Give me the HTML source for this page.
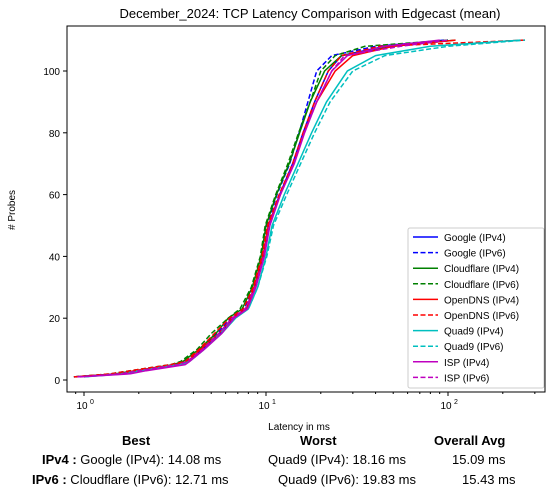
<!DOCTYPE html>
<html><head><meta charset="utf-8"><style>
body{margin:0;background:#fff;font-family:"Liberation Sans",sans-serif;}
#wrap{position:relative;width:555px;height:494px;}
.t{position:absolute;font-size:13px;color:#000;white-space:nowrap;}
</style></head><body>
<div id="wrap">
<svg id="chart" width="555" height="494" style="position:absolute;left:0;top:0"></svg>
<div class="t" style="left:122px;top:433px;font-weight:bold">Best</div>
<div class="t" style="left:300px;top:433px;font-weight:bold">Worst</div>
<div class="t" style="left:434px;top:433px;font-weight:bold">Overall Avg</div>
<div class="t" style="left:42px;top:452px"><b>IPv4 :</b> Google (IPv4): 14.08 ms</div>
<div class="t" style="left:268px;top:452px">Quad9 (IPv4): 18.16 ms</div>
<div class="t" style="left:452px;top:452px">15.09 ms</div>
<div class="t" style="left:32px;top:472px"><b>IPv6 :</b> Cloudflare (IPv6): 12.71 ms</div>
<div class="t" style="left:278px;top:472px">Quad9 (IPv6): 19.83 ms</div>
<div class="t" style="left:462px;top:472px">15.43 ms</div>
</div>
<script>
const probes=[1,2,3,5,6,10,15,20,23,30,40,50,60,70,80,90,100,105,108,110];
const seriesNames=["Google (IPv4)","Google (IPv6)","Cloudflare (IPv4)","Cloudflare (IPv6)","OpenDNS (IPv4)","OpenDNS (IPv6)","Quad9 (IPv4)","Quad9 (IPv6)","ISP (IPv4)","ISP (IPv6)"];
const seriesColors=["#0000ff","#0000ff","#008000","#008000","#ff0000","#ff0000","#00bfbf","#00bfbf","#bf00bf","#bf00bf"];
const seriesDashed=[false,true,false,true,false,true,false,true,false,true];
const lat0=[0.88,1.6,2.0,3.4,3.7,4.5,5.6,6.6,7.8,8.7,9.7,10.3,11.9,14,16,18.5,22,26,45,95];
const lat1=[0.88,1.5,1.9,3.2,3.6,4.4,5.4,6.4,7.6,8.5,9.5,10.1,11.5,13.5,15.2,17,19,23,40,100];
const lat2=[0.9,1.5,1.9,3.1,3.5,4.3,5.3,6.2,7.4,8.4,9.4,10.0,11.4,13.4,15.3,17.5,21,26,50,110];
const lat3=[0.88,1.4,1.8,3.0,3.4,4.2,5.0,6.2,7.2,8.3,9.3,9.9,11.3,13.2,15.1,17.5,20,24,35,100];
const lat4=[0.9,1.6,1.9,3.2,3.7,4.4,5.5,6.5,7.8,8.6,9.6,10.3,12,14.2,16.2,19,24,30,50,110];
const lat5=[0.88,1.4,1.8,3.0,3.6,4.3,5.2,6.3,7.5,8.5,9.5,10.2,11.8,14,16,18.5,22,26,42,265];
const lat6=[1.0,1.7,2.1,3.4,3.8,4.6,5.7,6.8,8.0,9.0,10.0,10.8,12.6,15,17.8,21.5,28,40,80,250];
const lat7=[1.0,1.6,2.0,3.3,3.8,4.6,5.6,6.7,8.0,9.0,10.1,11.0,13.0,15.5,18.5,22.5,30,45,100,265];
const lat8=[0.95,1.8,2.2,3.6,3.8,4.6,5.7,6.7,7.9,8.8,9.8,10.5,12,14.3,16.3,19,23,28,45,90];
const lat9=[0.92,1.6,2.0,3.3,3.7,4.5,5.5,6.5,7.7,8.7,9.7,10.4,12,14.2,16.2,19,23,27,55,100];
const allLat=[lat0,lat1,lat2,lat3,lat4,lat5,lat6,lat7,lat8,lat9];
const yTicks=[0,20,40,60,80,100];
const xTicks=[1,10,100];
const xTickLabels=["10","10","10"];
const xTickExp=["0","1","2"];

const NS="http://www.w3.org/2000/svg";
const svg=document.getElementById('chart');
const L=67,R=545,T=26,B=392;
function xs(v){return 84+182*Math.log10(v);}
function ys(v){return 380-3.09*v;}
function mk(tag,attrs,parent){const e=document.createElementNS(NS,tag);for(const k in attrs)e.setAttribute(k,attrs[k]);(parent||svg).appendChild(e);return e;}

let t=mk('text',{x:310,y:18,'font-size':13,'text-anchor':'middle'});t.textContent="December_2024: TCP Latency Comparison with Edgecast (mean)";



allLat.forEach((lat,i)=>{
  const d=lat.map((v,j)=>(j?'L':'M')+xs(v).toFixed(1)+','+ys(probes[j]).toFixed(1)).join(' ');
  const p=mk('path',{d:d,fill:'none',stroke:seriesColors[i],'stroke-width':1.5});
  if(seriesDashed[i])p.setAttribute('stroke-dasharray','5,2.5');
  
  
});

const frame=mk('rect',{x:L,y:T,width:R-L,height:B-T,fill:'none',stroke:'#000','stroke-width':1});



yTicks.forEach(v=>{
  mk('line',{x1:L-4,x2:L,y1:ys(v),y2:ys(v),stroke:'#000'});
  const tt=mk('text',{x:L-7,y:ys(v)+4,'font-size':10,'text-anchor':'end'});tt.textContent=v;
  
  
});
xTicks.forEach((v,i)=>{
  mk('line',{x1:xs(v),x2:xs(v),y1:B,y2:B+4,stroke:'#000'});
  const tt=mk('text',{x:xs(v)-2,y:B+17,'font-size':10,'text-anchor':'middle'});tt.textContent=xTickLabels[i];
  
  
  const e=mk('text',{x:xs(v)+6,y:B+12,'font-size':7});e.textContent=xTickExp[i];
});
for(let d=-1;d<=2;d++)for(let k=2;k<=9;k++){const x=xs(k*Math.pow(10,d));if(x>L&&x<R)mk('line',{x1:x,x2:x,y1:B,y2:B+2,stroke:'#000'});}

t=mk('text',{x:299,y:430,'font-size':10,'text-anchor':'middle'});t.textContent="Latency in ms";


t=mk('text',{x:15,y:210,'font-size':10,'text-anchor':'middle',transform:'rotate(-90 15 210)'});t.textContent="# Probes";



const lg=mk('rect',{x:408,y:228,width:136,height:160,fill:'#fff',stroke:'#ccc',rx:2});


seriesNames.forEach((n,i)=>{
  const y=237+i*15.6;
  const l=mk('line',{x1:413,x2:438,y1:y,y2:y,stroke:seriesColors[i],'stroke-width':1.5});
  if(seriesDashed[i])l.setAttribute('stroke-dasharray','5,2.5');
  const tt=mk('text',{x:444,y:y+4,'font-size':10});tt.textContent=n;
  
  
});
</script>
</body></html>
